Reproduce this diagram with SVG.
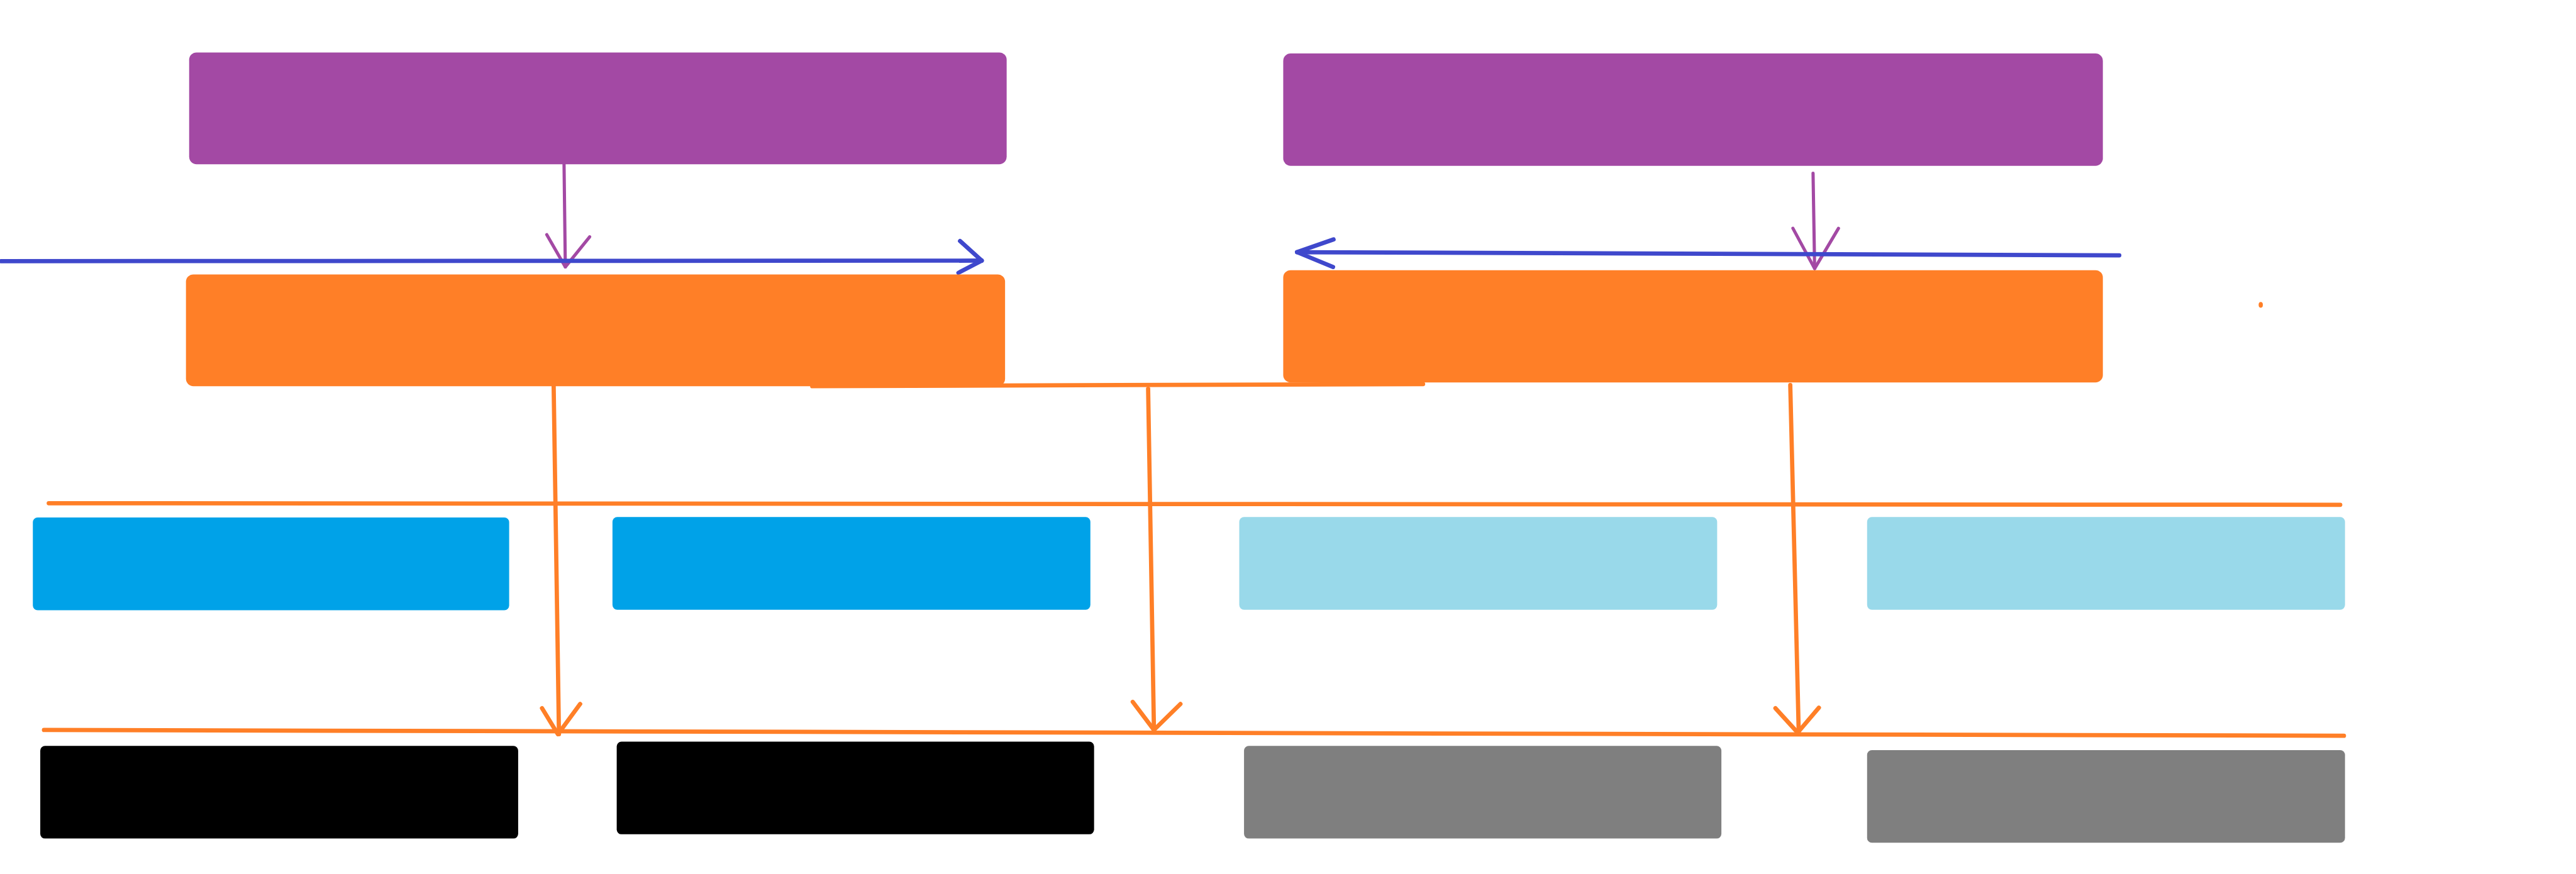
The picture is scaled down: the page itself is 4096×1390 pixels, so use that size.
<svg xmlns="http://www.w3.org/2000/svg" width="4096" height="1390" viewBox="0 0 4096 1390">
<style>
.purple{fill:#A349A4}
.orange{fill:#FF7F27}
.blue{fill:#00A2E8}
.lblue{fill:#99D9EA}
.black{fill:#000000}
.gray{fill:#7F7F7F}
.lp{fill:none;stroke:#A349A4;stroke-width:6;stroke-linecap:round;stroke-linejoin:round}
.lb{fill:none;stroke:#3F48CC;stroke-width:8;stroke-linecap:round;stroke-linejoin:round}
.lo{fill:none;stroke:#FF7F27;stroke-width:8;stroke-linecap:round;stroke-linejoin:round}
</style>
<rect width="4096" height="1390" fill="#FFFFFF"/>
<g transform="scale(0.84245)">
<g id="connectors">
<path class="lo" d="M1533,729 L2686,725"/>
<path class="lo" d="M92,950 L4417,953"/>
<path class="lo" d="M83,1378 L4424,1389"/>
<path class="lo" d="M1045,729 L1055,1386"/>
<path class="lo" d="M1023,1337 L1053,1386 L1095,1329"/>
<path class="lo" d="M2167,734 L2178,1378"/>
<path class="lo" d="M2138,1325 L2178,1378 L2228,1329"/>
<path class="lo" d="M3379,727 L3395,1384"/>
<path class="lo" d="M3351,1337 L3393,1383 L3433,1336"/>
<path class="lp" d="M1064.6,310 L1067,504"/>
<path class="lp" d="M1032,443 L1067,504 L1113,447"/>
<path class="lp" d="M3422,327 L3425,507"/>
<path class="lp" d="M3384,431 L3425,507 L3470,431"/>
<path class="lb" d="M2,493 L1853,492"/>
<path class="lb" d="M1812,455 L1853,492 L1809,515"/>
<path class="lb" d="M4000,482 L2448,476"/>
<path class="lb" d="M2517,452 L2448,476 L2516,504"/>
<ellipse cx="4267" cy="575.5" rx="4" ry="5.5" fill="#FF7F27"/>
</g>
<g id="node-purple-1"><rect class="purple" x="357" y="99" width="1543" height="211" rx="14"/></g>
<g id="node-purple-2"><rect class="purple" x="2422" y="101" width="1547" height="212" rx="14"/></g>
<g id="node-orange-1"><rect class="orange" x="351" y="518" width="1546" height="211" rx="14"/></g>
<g id="node-orange-2"><rect class="orange" x="2422" y="510" width="1547" height="212" rx="14"/></g>
<g id="node-blue-1"><rect class="blue" x="62" y="977" width="899" height="175" rx="9"/></g>
<g id="node-blue-2"><rect class="blue" x="1156" y="976" width="902" height="175" rx="9"/></g>
<g id="node-lightblue-3"><rect class="lblue" x="2339" y="976" width="902" height="175" rx="9"/></g>
<g id="node-lightblue-4"><rect class="lblue" x="3524" y="976" width="902" height="175" rx="9"/></g>
<g id="node-black-1"><rect class="black" x="76" y="1408" width="902" height="175" rx="9"/></g>
<g id="node-black-2"><rect class="black" x="1164" y="1400" width="901" height="175" rx="9"/></g>
<g id="node-gray-3"><rect class="gray" x="2348" y="1408" width="901" height="175" rx="9"/></g>
<g id="node-gray-4"><rect class="gray" x="3524" y="1416" width="902" height="175" rx="9"/></g>
</g>
</svg>
